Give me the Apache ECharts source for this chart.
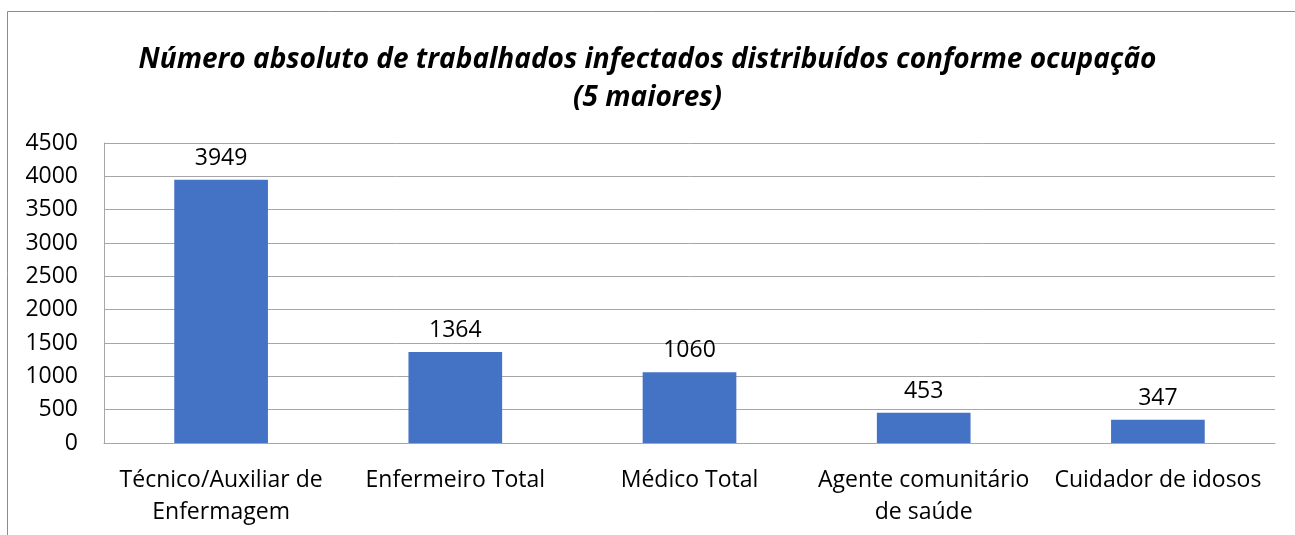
<!DOCTYPE html>
<html>
<head>
<meta charset="utf-8">
<script src="https://cdn.jsdelivr.net/npm/echarts@6/dist/echarts.min.js"></script>
<style>
  html, body { margin: 0; padding: 0; background: #fff; }
  #chart { width: 1295px; height: 535px; }
</style>
</head>
<body>
<div id="chart"></div>
<script>
var chartDom = document.getElementById("chart")
var chart = echarts.init(chartDom)

var titleText = "Número absoluto de trabalhados infectados distribuídos conforme ocupação\n(5 maiores)"
var categories = [
  "Técnico/Auxiliar de\nEnfermagem",
  "Enfermeiro Total",
  "Médico Total",
  "Agente comunitário\nde saúde",
  "Cuidador de idosos"
]
var values = [3949, 1364, 1060, 453, 347]

var font = "'Open Sans', 'Noto Sans', sans-serif"
var gridColor = "#a6a6a6"

var option = {
  backgroundColor: "#fff",
  animation: false,
  title: {
    text: titleText,
    left: "center",
    top: 36,
    textStyle: {
      fontFamily: font,
      fontSize: 28,
      fontWeight: "bold",
      fontStyle: "italic",
      color: "#000",
      lineHeight: 38,
    },
  },
  graphic: [
    {
      type: "rect",
      shape: { x: 7.5, y: 11.5, width: 1400, height: 600 },
      style: { fill: "none", stroke: "#8c8c8c", lineWidth: 1 },
      silent: true,
    },
  ],
  grid: {
    left: 104,
    right: 20,
    top: 143,
    bottom: 92,
  },
  xAxis: {
    type: "category",
    data: categories,
    axisLine: { lineStyle: { color: gridColor } },
    axisTick: { show: false },
    axisLabel: {
      interval: 0,
      margin: 21,
      color: "#000",
      fontFamily: font,
      fontSize: 23,
      lineHeight: 32,
    },
  },
  yAxis: {
    type: "value",
    min: 0,
    max: 4500,
    interval: 500,
    axisLine: { show: true, lineStyle: { color: gridColor } },
    axisTick: { show: false },
    splitLine: { lineStyle: { color: gridColor } },
    axisLabel: {
      margin: 26,
      color: "#000",
      fontFamily: font,
      fontSize: 23,
      formatter: function (v) { return String(v) },
    },
  },
  series: [
    {
      type: "bar",
      data: values,
      barWidth: "40%",
      itemStyle: { color: "#4472C4" },
      label: {
        show: true,
        position: "top",
        distance: 10,
        color: "#000",
        fontFamily: font,
        fontSize: 23,
      },
    },
  ],
}

chart.setOption(option)
</script>
</body>
</html>
